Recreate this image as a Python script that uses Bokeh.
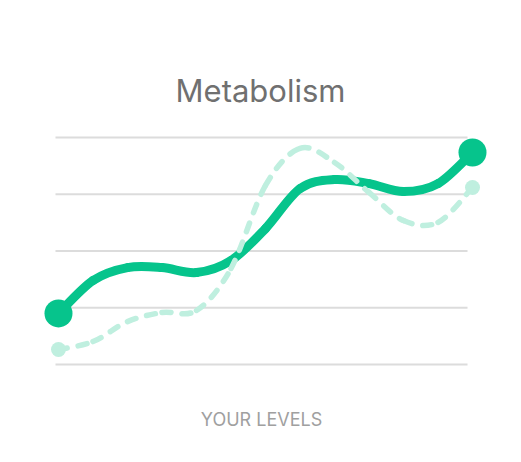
from bokeh.plotting import figure
from bokeh.models import Range1d, Label
from bokeh.embed import file_html
from bokeh.resources import INLINE

# ---- data ----
x_pos = list(range(13))
your_levels = [22.5, 37.0, 42.7, 42.7, 40.5, 45.8, 59.9, 77.5, 81.5, 79.7, 76.2, 79.7, 93.4]
reference_levels = [6.6, 10.1, 18.9, 22.9, 23.8, 42.3, 78.9, 95.2, 89.0, 75.8, 63.4, 62.6, 78.0]
grid_levels = [0, 25, 50, 75, 100]
title_text = "Metabolism"
axis_text = "YOUR LEVELS"

GREEN = "#06C48C"
MINT = "#BFEFDF"


def catmull_bezier(xs, ys):
    n = len(xs)
    out = dict(x0=[], y0=[], x1=[], y1=[], cx0=[], cy0=[], cx1=[], cy1=[])
    for i in range(n - 1):
        im1 = max(i - 1, 0)
        ip2 = min(i + 2, n - 1)
        out["x0"].append(xs[i]); out["y0"].append(ys[i])
        out["x1"].append(xs[i + 1]); out["y1"].append(ys[i + 1])
        out["cx0"].append(xs[i] + (xs[i + 1] - xs[im1]) / 6)
        out["cy0"].append(ys[i] + (ys[i + 1] - ys[im1]) / 6)
        out["cx1"].append(xs[i + 1] - (xs[ip2] - xs[i]) / 6)
        out["cy1"].append(ys[i + 1] - (ys[ip2] - ys[i]) / 6)
    return out


W, H = 520, 460
XS, YS = 34.5, 2.27       # px per x step, px per level unit
X0, Y0 = 58, 364          # pixel position of first point / zero level
p = figure(width=W, height=H, output_backend="svg", toolbar_location=None,
           x_axis_type=None, y_axis_type=None, min_border=0,
           x_range=Range1d(-X0 / XS, (W - X0) / XS),
           y_range=Range1d((Y0 - H) / YS, Y0 / YS))
p.outline_line_color = None
p.background_fill_color = "white"
p.border_fill_color = "white"

# horizontal guide lines (limited extent, like the reference)
gx0 = (55 - X0) / XS
gx1 = (467 - X0) / XS
p.segment(x0=[gx0] * len(grid_levels), x1=[gx1] * len(grid_levels),
          y0=grid_levels, y1=grid_levels, line_color="#DCDCDC", line_width=2)

sb = catmull_bezier(x_pos, your_levels)
p.bezier(line_color=GREEN, line_width=9, line_cap="round", **sb)

db = catmull_bezier(x_pos, reference_levels)
p.bezier(line_color=MINT, line_width=5.5, line_cap="round", line_dash="9 11", **db)

p.scatter([x_pos[0], x_pos[-1]], [your_levels[0], your_levels[-1]], size=28,
          fill_color=GREEN, line_color=None)
p.scatter([x_pos[0], x_pos[-1]], [reference_levels[0], reference_levels[-1]], size=15,
          fill_color=MINT, line_color=None)

p.add_layout(Label(x=(260 - X0) / XS, y=(Y0 - 89.5) / YS, text=title_text, text_align="center",
                   text_baseline="alphabetic", text_font="Inter", text_font_size="31px",
                   text_color="#707070"))
p.add_layout(Label(x=(261 - X0) / XS, y=(Y0 - 418.5) / YS, text=axis_text, text_align="center",
                   text_baseline="alphabetic", text_font="Inter", text_font_size="18px",
                   text_color="#A0A0A0"))

open("out.html", "w").write(file_html(p, INLINE))
